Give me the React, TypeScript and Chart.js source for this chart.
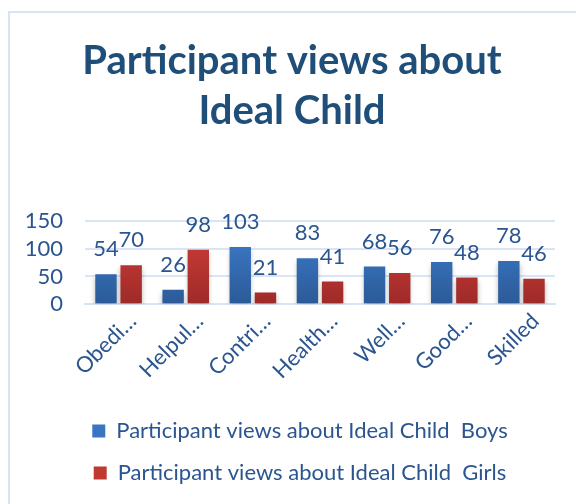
import React, { useEffect, useRef } from "react";
import { Chart, registerables } from "chart.js";

Chart.register(...registerables);

const categories = ["Obedi…", "Helpul…", "Contri…", "Health…", "Well…", "Good…", "Skilled"];
const boys = [54, 26, 103, 83, 68, 76, 78];
const girls = [70, 98, 21, 41, 56, 48, 46];
const seriesNames = [
  "Participant views about Ideal Child  Boys",
  "Participant views about Ideal Child  Girls",
];
const titleLines = ["Participant views about", "Ideal Child"];
const yTicks = { min: 0, max: 150, step: 50 };

const FONT = "Lato, 'Open Sans', sans-serif";
const TEXT = "#2A5590";
const TITLE = "#1F4E79";

function grad(ctx: any, top: string, bottom: string) {
  const chart = ctx.chart;
  const area = chart.chartArea;
  if (!area) return top;
  const g = chart.ctx.createLinearGradient(0, area.top, 0, area.bottom);
  g.addColorStop(0, top);
  g.addColorStop(1, bottom);
  return g;
}

const valueLabels = {
  id: "valueLabels",
  afterLayout(chart: any) {
    // nudge the title and the wrapped legend rows to the right, as in the reference
    if (chart.legend) {
      chart.legend.left += 17;
      chart.legend.right += 17;
    }
    if (chart.titleBlock) {
      chart.titleBlock.left += 9;
      chart.titleBlock.right += 9;
    }
  },
  beforeDatasetsDraw(chart: any) {
    const ctx = chart.ctx;
    ctx.save();
    ctx.shadowColor = "rgba(0,0,0,0.28)";
    ctx.shadowBlur = 5;
    ctx.shadowOffsetY = 3;
  },
  afterDatasetsDraw(chart: any) {
    const ctx = chart.ctx;
    ctx.restore();
    ctx.save();
    ctx.font = `22px ${FONT}`;
    ctx.fillStyle = TEXT;
    ctx.textAlign = "center";
    ctx.textBaseline = "middle";
    chart.data.datasets.forEach((ds: any, i: number) => {
      const meta = chart.getDatasetMeta(i);
      meta.data.forEach((bar: any, j: number) => {
        ctx.fillText(String(ds.data[j]), bar.x, bar.y - 25);
      });
    });
    ctx.restore();
  },
};

export default function App() {
  const ref = useRef<HTMLCanvasElement>(null);
  useEffect(() => {
    const chart = new Chart(ref.current!, {
      type: "bar",
      data: {
        labels: categories,
        datasets: [
          {
            label: seriesNames[0],
            data: boys,
            backgroundColor: (c: any) => grad(c, "#3F80D2", "#2B5A97"),
            categoryPercentage: 0.75,
            barPercentage: 0.85,
          },
          {
            label: seriesNames[1],
            data: girls,
            backgroundColor: (c: any) => grad(c, "#D4403C", "#9E2A28"),
            categoryPercentage: 0.75,
            barPercentage: 0.85,
          },
        ],
      },
      options: {
        responsive: false,
        animation: false,
        layout: { padding: { left: 11, right: 21, top: 0, bottom: 10 } },
        plugins: {
          title: {
            display: true,
            text: titleLines,
            color: TITLE,
            font: { family: FONT, size: 40, weight: "bold", lineHeight: 1.25 },
            padding: { top: 36, bottom: 85 },
          },
          legend: {
            position: "bottom",
            labels: {
              color: TEXT,
              font: { family: FONT, size: 22 },
              boxWidth: 13,
              boxHeight: 13,
              padding: 20,
              generateLabels: (chart: any) => {
                const cols = ["#3A75C4", "#C0392F"];
                return chart.data.datasets.map((ds: any, i: number) => ({
                  text: ds.label,
                  fillStyle: cols[i],
                  strokeStyle: cols[i],
                  lineWidth: 0,
                  datasetIndex: i,
                  fontColor: TEXT,
                }));
              },
            },
          },
          tooltip: { enabled: false },
        },
        scales: {
          x: {
            grid: { display: false },
            border: { color: "#D9E5F5", width: 2 },
            afterFit: (scale: any) => {
              scale.height += 20;
            },
            ticks: {
              color: TEXT,
              font: { family: FONT, size: 22 },
              minRotation: 45,
              maxRotation: 45,
              padding: -4,
              labelOffset: 14,
            },
          },
          y: {
            min: yTicks.min,
            max: yTicks.max,
            grid: { color: "#D9E5F5", lineWidth: 2, drawTicks: false },
            border: { display: false },
            afterFit: (scale: any) => {
              scale.width = 74;
            },
            ticks: {
              stepSize: yTicks.step,
              autoSkip: false,
              color: TEXT,
              font: { family: FONT, size: 22 },
              padding: 22,
            },
          },
        },
      },
      plugins: [valueLabels],
    });
    return () => chart.destroy();
  }, []);
  return (
    <div style={{ position: "absolute", left: 0, top: 0, width: 576, height: 504, overflow: "hidden", background: "#fff" }}>
      <div style={{ position: "absolute", left: 8, top: 11, width: 700, height: 700, border: "2px solid #D6E4F6", boxSizing: "border-box" }} />
      <canvas ref={ref} width={576} height={504} style={{ position: "absolute", left: 0, top: 0 }} />
    </div>
  );
}
